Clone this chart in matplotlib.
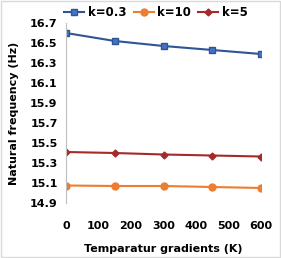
import matplotlib.pyplot as plt

temps = [0, 150, 300, 450, 600]
k03 = [16.60, 16.52, 16.47, 16.43, 16.39]
k10 = [15.075, 15.07, 15.07, 15.06, 15.05]
k5 = [15.41, 15.40, 15.385, 15.375, 15.365]
xticks = [0, 100, 200, 300, 400, 500, 600]
yticks = [14.9, 15.1, 15.3, 15.5, 15.7, 15.9, 16.1, 16.3, 16.5, 16.7]

plt.rcParams['font.family'] = ['DejaVu Sans']
plt.rcParams['font.weight'] = 'bold'

fig = plt.figure(figsize=(2.81, 2.58), dpi=100)
ax = fig.add_axes([66/281, 1 - 203/258, 195/281, 180/258])

ax.plot(temps, k03, color='#2F5597', marker='s', markersize=5,
        markerfacecolor='#4472C4', markeredgecolor='#2F5597', lw=1.5, label='k=0.3')
ax.plot(temps, k10, color='#ED7D31', marker='o', markersize=5,
        markerfacecolor='#ED7D31', markeredgecolor='#ED7D31', lw=1.5, label='k=10')
ax.plot(temps, k5, color='#A52A2A', marker='D', markersize=3.5,
        markerfacecolor='#A52A2A', markeredgecolor='#A52A2A', lw=1.5, label='k=5')

ax.set_xlim(0, 600)
ax.set_ylim(14.9, 16.7)
ax.set_xticks(xticks)
ax.set_yticks(yticks)
ax.set_yticklabels(['%.1f' % v for v in yticks])
ax.tick_params(axis='both', length=0, labelsize=8)
ax.tick_params(axis='x', pad=13)
ax.tick_params(axis='y', pad=6)

for s in ['top', 'right', 'bottom']:
    ax.spines[s].set_visible(False)
ax.spines['left'].set_color('#BFBFBF')
ax.spines['left'].set_linewidth(0.8)

ax.set_xlabel('Temparatur gradients (K)', fontsize=8, fontweight='bold', labelpad=9)
ax.set_ylabel('Natural frequency (Hz)', fontsize=8, fontweight='bold', labelpad=8)

leg = fig.legend(loc='upper center', bbox_to_anchor=(0.555, 1.0), ncol=3, frameon=False,
                 fontsize=8.5, handlelength=1.7, columnspacing=0.6, handletextpad=0.3,
                 borderaxespad=0.15)

fig.patches.append(plt.Rectangle((0.002, 0.002), 0.996, 0.996, transform=fig.transFigure,
                                 fill=False, edgecolor='#D9D9D9', lw=1))

fig.savefig('out.png', dpi=100)
